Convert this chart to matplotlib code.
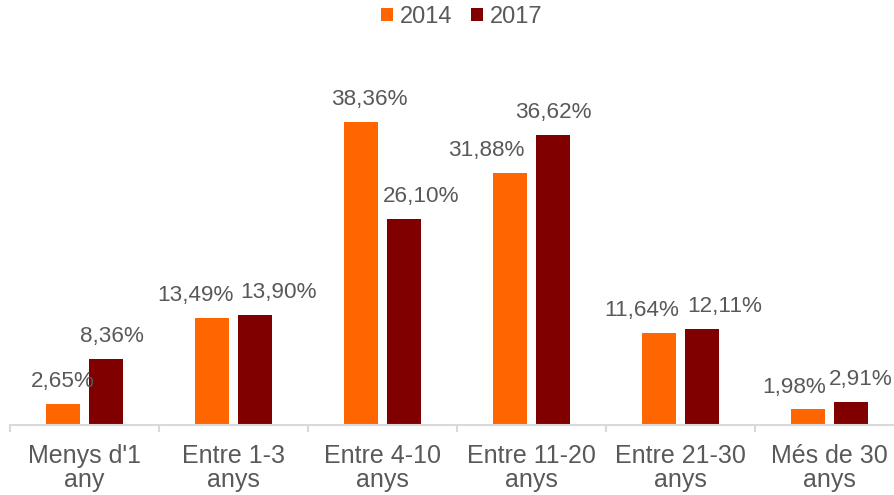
import matplotlib.pyplot as plt
import numpy as np

plt.rcParams['font.family'] = ['Liberation Sans', 'DejaVu Sans']

categories = ["Menys d'1\nany", "Entre 1-3\nanys", "Entre 4-10\nanys",
              "Entre 11-20\nanys", "Entre 21-30\nanys", "Més de 30\nanys"]
vals_2014 = [2.65, 13.49, 38.36, 31.88, 11.64, 1.98]
vals_2017 = [8.36, 13.90, 26.10, 36.62, 12.11, 2.91]
series_names = ["2014", "2017"]

c14 = '#FF6600'
c17 = '#800000'
grey = '#595959'

# label nudges in points (Excel moves overlapping labels sideways)
dx_2014 = [0, -12, 6, -17, -12, -10]
dx_2017 = [4, 17, 12, 0, 16, 7]

fig = plt.figure(figsize=(8.94, 4.95), dpi=100)
ax = fig.add_axes([10 / 894, 70 / 495, 1.0, 356 / 495])

x = np.arange(len(categories))
w = 0.225
off = 0.146
b1 = ax.bar(x - off, vals_2014, w, color=c14, label=series_names[0])
b2 = ax.bar(x + off, vals_2017, w, color=c17, label=series_names[1])

def fmt(v):
    return ('%.2f%%' % v).replace('.', ',')

for bars, vals, dxs in [(b1, vals_2014, dx_2014), (b2, vals_2017, dx_2017)]:
    for r, v, d in zip(bars, vals, dxs):
        ax.annotate(fmt(v), (r.get_x() + r.get_width() / 2, v),
                    xytext=(d, 8.5), textcoords='offset points',
                    ha='center', va='bottom', fontsize=16.2, color=grey)

ax.set_xlim(-0.5, len(categories) - 0.5)
ax.set_ylim(0, 45)
ax.set_yticks([])
for s in ['top', 'right', 'left']:
    ax.spines[s].set_visible(False)
ax.spines['bottom'].set_color('#D9D9D9')
ax.spines['bottom'].set_linewidth(1.5)

ax.set_xticks(x)
ax.set_xticklabels(categories, fontsize=18, color=grey, linespacing=0.98)
ax.tick_params(axis='x', which='major', length=0, pad=14)
ax.set_xticks(np.arange(-0.5, len(categories)), minor=True)
ax.tick_params(axis='x', which='minor', length=5, color='#D9D9D9', width=1.5)

leg = fig.legend(loc='center', bbox_to_anchor=(462 / 894, 1 - 17 / 495), ncol=2,
                 frameon=False, fontsize=17, handlelength=0.5, handleheight=0.5,
                 handletextpad=0.3, columnspacing=0.8, labelcolor=grey)

fig.savefig('out.png', dpi=100)
